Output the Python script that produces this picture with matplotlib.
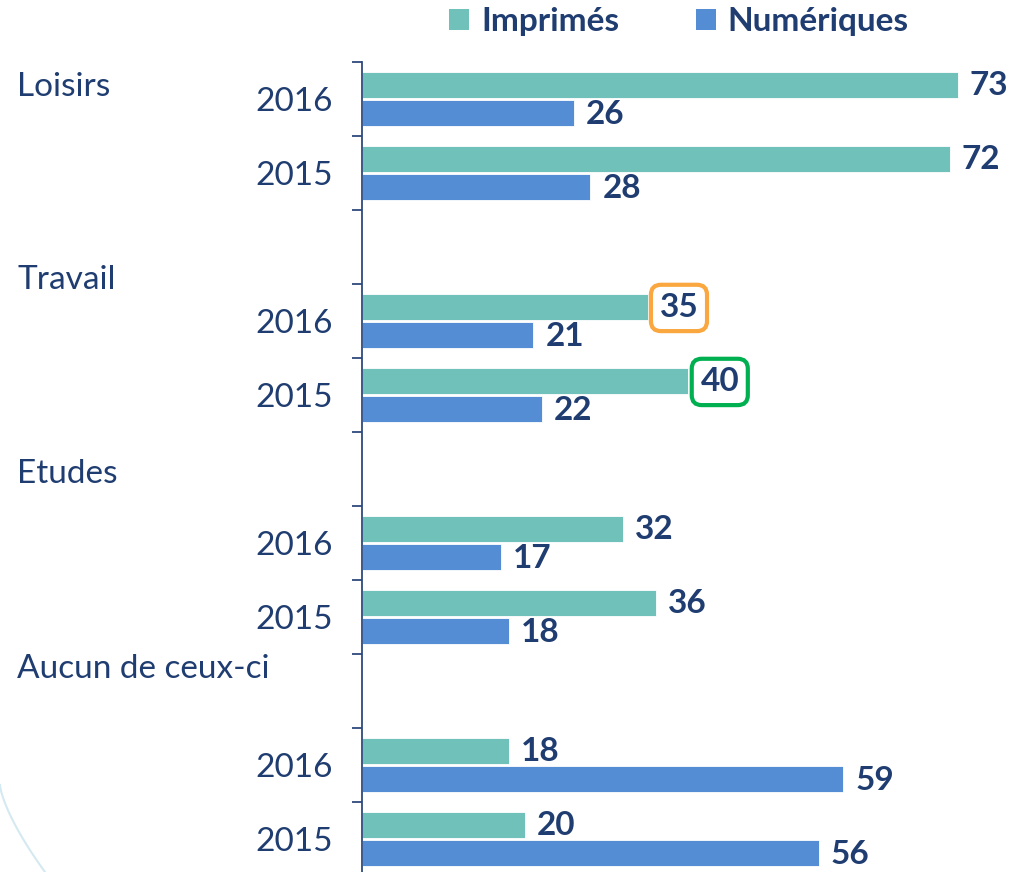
import matplotlib
matplotlib.use("Agg")
import matplotlib.pyplot as plt
from matplotlib.patches import Patch
from matplotlib.lines import Line2D
import numpy as np

categories = ["Loisirs", "Travail", "Etudes", "Aucun de ceux-ci"]
years = ["2016", "2015"]
imprimes = [[73, 72], [35, 40], [32, 36], [18, 20]]
numeriques = [[26, 28], [21, 22], [17, 18], [59, 56]]
series_names = ["Imprimés", "Numériques"]

TEAL = "#70C1BA"
BLUE = "#548DD4"
NAVY = "#1F3D70"
AXIS = "#2E4A7D"
FONT = "Lato"
FS = 24

W, H = 1012, 872
fig = plt.figure(figsize=(W / 100, H / 100), dpi=100)
ax_left = 362 / W
ax_top = 1 - 62 / H
ax_bottom = -4 / H
ax = fig.add_axes([ax_left, ax_bottom, 1 - ax_left, ax_top - ax_bottom])

px_per_unit = 8.16
ax.set_xlim(0, (W - 362) / px_per_unit)
nslots = 3 * len(categories) - 1
ax.set_ylim(nslots - 0.5, -0.5)

bar_h = 0.35
off = 0.19
centers = []
ylabels = []
for g, cat in enumerate(categories):
    for k, yr in enumerate(years):
        c = 3 * g + k
        centers.append(c)
        ylabels.append(yr)
        vi = imprimes[g][k]
        vn = numeriques[g][k]
        ax.barh(c - off, vi, height=bar_h, color=TEAL, edgecolor="white", linewidth=0.6)
        ax.barh(c + off, vn, height=bar_h, color=BLUE, edgecolor="white", linewidth=0.6)
        for val, yy in ((vi, c - off), (vn, c + off)):
            kw = {}
            if g == 1 and yy < c:
                ec = "#F9A73E" if k == 0 else "#00B050"
                kw["bbox"] = dict(boxstyle="round,pad=0.26,rounding_size=0.3",
                                  fc="white", ec=ec, lw=3)
            ax.annotate(str(val), xy=(val, yy), xytext=(12, -1),
                        textcoords="offset pixels", ha="left", va="center",
                        fontsize=FS, fontweight="bold", color=NAVY,
                        family=FONT, **kw)

ax.set_yticks(centers)
ax.set_yticklabels(ylabels, fontsize=FS, color=NAVY, family=FONT)
ax.tick_params(axis="y", which="major", length=0, pad=21)
ax.set_yticks(np.arange(-0.5, nslots - 0.5, 1.0), minor=True)
ax.tick_params(axis="y", which="minor", length=7.5, width=1.3, color=AXIS)
ax.set_xticks([])
for s in ("top", "right", "bottom"):
    ax.spines[s].set_visible(False)
ax.spines["left"].set_color(AXIS)
ax.spines["left"].set_linewidth(1.3)

cat_y = [87, 280, 474, 669]
for cat, yy in zip(categories, cat_y):
    fig.text(17 / W, 1 - yy / H, cat, ha="left", va="center",
             fontsize=FS, color=NAVY, family=FONT)

handles = [Patch(facecolor=TEAL, edgecolor="none"), Patch(facecolor=BLUE, edgecolor="none")]
leg = fig.legend(handles, series_names, loc="center", bbox_to_anchor=(679 / W, 1 - 22 / H),
                 ncol=2, frameon=False, handlelength=0.6, handleheight=0.6,
                 handletextpad=0.36, columnspacing=2.3,
                 prop={"family": FONT, "weight": "bold", "size": FS})
for t in leg.get_texts():
    t.set_color(NAVY)

# faint decorative arc bottom-left
tt = np.linspace(0, 1, 50)
arc_x = (0 + 45 * tt ** 1.4) / W
arc_y = 1 - (785 + 87 * tt) / H
fig.add_artist(Line2D(arc_x, arc_y, transform=fig.transFigure, color="#D5E9F1", lw=1.5))

fig.savefig("out.png", dpi=100)
